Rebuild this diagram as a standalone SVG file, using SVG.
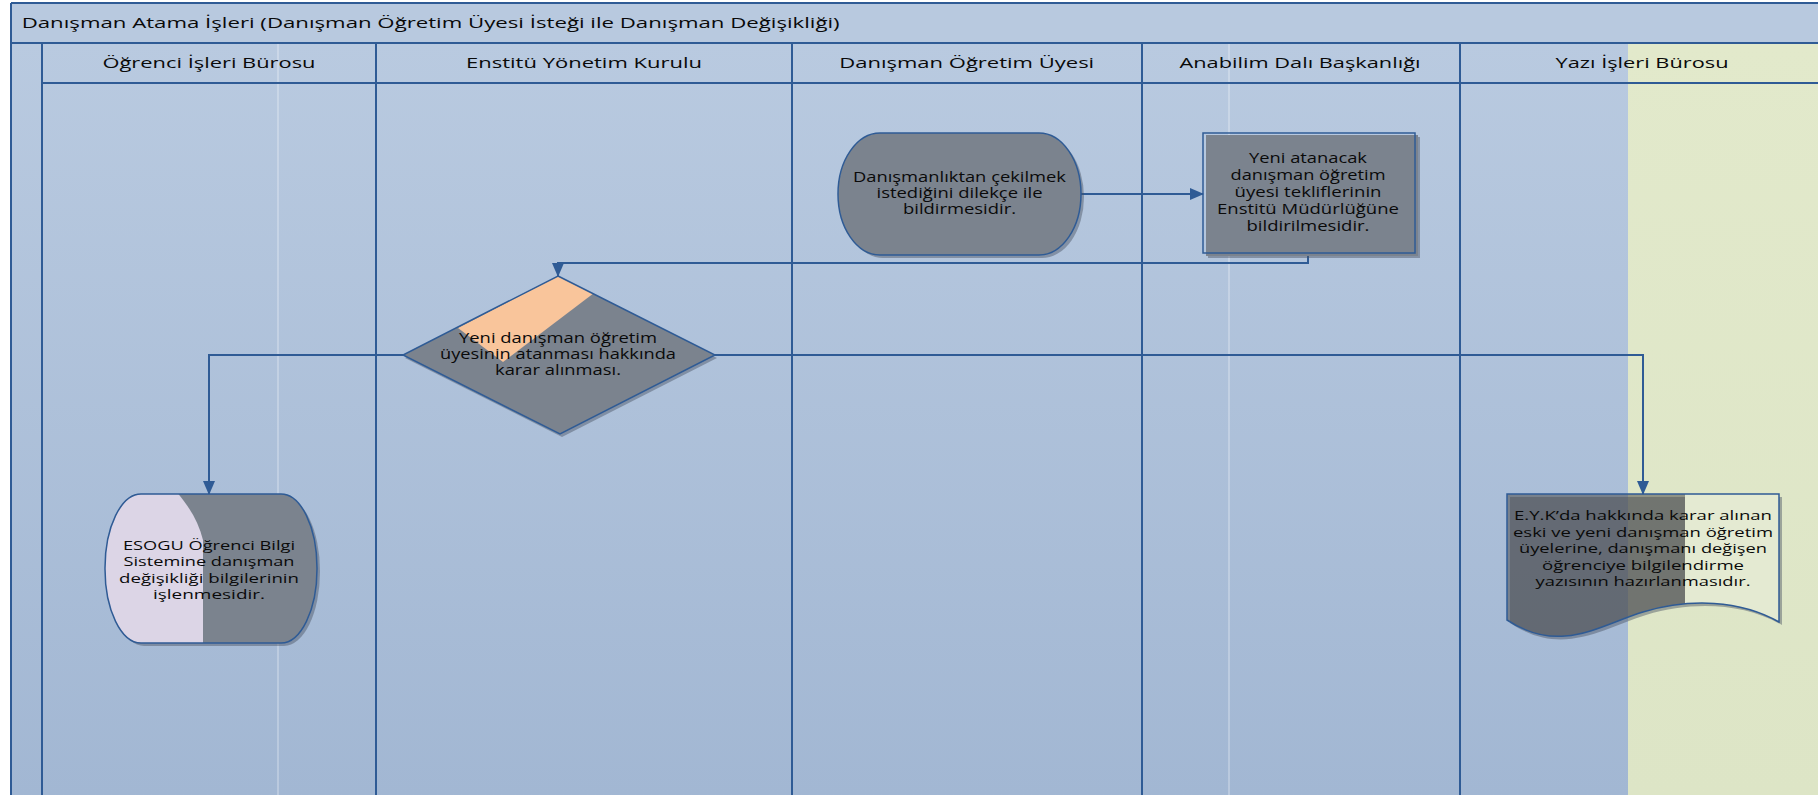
<svg xmlns="http://www.w3.org/2000/svg" width="1818" height="795" viewBox="0 0 1818 795">
<style>
.ln{stroke:#2f5b95;stroke-width:2;fill:none}
.fl{stroke:#ffffff;stroke-opacity:0.35;stroke-width:1.5}
.node{fill:#7b838e}
.out{fill:none;stroke:#2f5b95;stroke-width:1.5}
.sh{fill:#4a5361;opacity:0.45}
.t{font-family:"Open Sans","Liberation Sans",sans-serif;font-size:14px;font-weight:500;fill:#0a0a0a;text-anchor:middle}
.ts{font-size:13.5px}
.h{font-family:"Open Sans","Liberation Sans",sans-serif;font-size:15px;font-weight:500;fill:#0a0a0a;text-anchor:middle}
.ttl{font-family:"Open Sans","Liberation Sans",sans-serif;font-size:15px;font-weight:500;fill:#0a0a0a}
.con{stroke:#2f5b95;stroke-width:2;fill:none;marker-end:url(#arr)}
</style>
<defs>
<linearGradient id="bg" x1="0" y1="43" x2="0" y2="795" gradientUnits="userSpaceOnUse">
<stop offset="0" stop-color="#b9cae0"/>
<stop offset="1" stop-color="#a2b7d3"/>
</linearGradient>
<linearGradient id="gr" x1="0" y1="43" x2="0" y2="795" gradientUnits="userSpaceOnUse">
<stop offset="0" stop-color="#e2e9cb"/>
<stop offset="1" stop-color="#dde5c6"/>
</linearGradient>
<marker id="arr" markerUnits="userSpaceOnUse" markerWidth="14" markerHeight="12" refX="13" refY="6" orient="auto">
<path d="M0,0 L14,6 L0,12 z" fill="#2f5b95"/>
</marker>
<clipPath id="cpT2"><rect x="105" y="494" width="212" height="149" rx="36" ry="74"/></clipPath>
<clipPath id="cpD1"><polygon points="558,276 715,355 560,434 403,355"/></clipPath>
<clipPath id="cpDoc"><path d="M1507,494 H1779 V622 C1740,600 1690,598 1643,612 C1600,625 1560,655 1507,620 Z"/></clipPath>
</defs>

<g id="background">
<rect x="11" y="3" width="1830" height="800" fill="url(#bg)"/>
<rect x="11" y="3" width="1830" height="40" fill="#b8c9df"/>
<rect x="1628" y="43" width="200" height="760" fill="url(#gr)"/>
<line class="fl" x1="278" y1="43" x2="278" y2="795"/>
<line class="fl" x1="1229" y1="43" x2="1229" y2="795"/>
</g>

<g id="pool">
<line class="ln" x1="11" y1="3" x2="1818" y2="3"/>
<line class="ln" x1="11" y1="3" x2="11" y2="795"/>
<line class="ln" x1="11" y1="43" x2="1818" y2="43"/>
<line class="ln" x1="42" y1="83" x2="1818" y2="83"/>
<line class="ln" x1="42" y1="43" x2="42" y2="795"/>
<line class="ln" x1="376" y1="43" x2="376" y2="795"/>
<line class="ln" x1="792" y1="43" x2="792" y2="795"/>
<line class="ln" x1="1142" y1="43" x2="1142" y2="795"/>
<line class="ln" x1="1460" y1="43" x2="1460" y2="795"/>
<text class="ttl" x="21.7" y="28.3" textLength="818" lengthAdjust="spacingAndGlyphs">Danışman Atama İşleri (Danışman Öğretim Üyesi İsteği ile Danışman Değişikliği)</text>
</g>

<g id="lane-headers">
<text class="h" x="209" y="68.3" textLength="213" lengthAdjust="spacingAndGlyphs">Öğrenci İşleri Bürosu</text>
<text class="h" x="584" y="68.3" textLength="236" lengthAdjust="spacingAndGlyphs">Enstitü Yönetim Kurulu</text>
<text class="h" x="966.7" y="68.3" textLength="255" lengthAdjust="spacingAndGlyphs">Danışman Öğretim Üyesi</text>
<text class="h" x="1300" y="68.3" textLength="241" lengthAdjust="spacingAndGlyphs">Anabilim Dalı Başkanlığı</text>
<text class="h" x="1642" y="68.3" textLength="173" lengthAdjust="spacingAndGlyphs">Yazı İşleri Bürosu</text>
</g>

<g id="connectors">
<path class="con" d="M1081,194 H1203"/>
<path class="con" d="M1308,256 V263 H558 V276"/>
<path class="con" d="M403,355 H209 V494"/>
<path class="con" d="M715,355 H1643 V494"/>
</g>

<g id="n1-dilekce">
<rect class="sh" x="841" y="136" width="243" height="122" rx="42" ry="61"/>
<rect class="node" x="838" y="133" width="243" height="122" rx="42" ry="61"/>
<rect class="out" x="838" y="133" width="243" height="122" rx="42" ry="61"/>
<text class="t" x="959.5" y="181.7" textLength="213" lengthAdjust="spacingAndGlyphs">Danışmanlıktan çekilmek</text>
<text class="t" x="959.5" y="197.5" textLength="166" lengthAdjust="spacingAndGlyphs">istediğini dilekçe ile</text>
<text class="t" x="959.5" y="213.5" textLength="113" lengthAdjust="spacingAndGlyphs">bildirmesidir.</text>
</g>

<g id="n2-teklif">
<rect class="sh" x="1208" y="137" width="212" height="121"/>
<rect class="node" x="1206" y="135" width="212" height="121"/>
<rect class="out" x="1203" y="133" width="212" height="120"/>
<text class="t" x="1308" y="163.3" textLength="118" lengthAdjust="spacingAndGlyphs">Yeni atanacak</text>
<text class="t" x="1308" y="180" textLength="155" lengthAdjust="spacingAndGlyphs">danışman öğretim</text>
<text class="t" x="1308" y="196.7" textLength="147" lengthAdjust="spacingAndGlyphs">üyesi tekliflerinin</text>
<text class="t" x="1308" y="214" textLength="182" lengthAdjust="spacingAndGlyphs">Enstitü Müdürlüğüne</text>
<text class="t" x="1308" y="230.7" textLength="123" lengthAdjust="spacingAndGlyphs">bildirilmesidir.</text>
</g>

<g id="n3-karar">
<polygon class="sh" points="560,279 717,358 562,437 405,358"/>
<polygon class="node" points="558,276 715,355 560,434 403,355"/>
<polygon points="558,276 594,293 503,362 458,328" fill="#f9c59b" clip-path="url(#cpD1)"/>
<polygon class="out" points="558,276 715,355 560,434 403,355"/>
<text class="t" x="558" y="343" textLength="198" lengthAdjust="spacingAndGlyphs">Yeni danışman öğretim</text>
<text class="t" x="558" y="359" textLength="236" lengthAdjust="spacingAndGlyphs">üyesinin atanması hakkında</text>
<text class="t" x="558" y="375" textLength="126" lengthAdjust="spacingAndGlyphs">karar alınması.</text>
</g>

<g id="n4-esogu">
<rect class="sh" x="108" y="497" width="212" height="149" rx="36" ry="74"/>
<rect class="node" x="105" y="494" width="212" height="149" rx="36" ry="74"/>
<path d="M100,490 H175 C188,505 198,520 203,540 V650 H100 Z" fill="#dcd5e6" clip-path="url(#cpT2)"/>
<rect class="out" x="105" y="494" width="212" height="149" rx="36" ry="74"/>
<text class="t ts" x="209" y="550" textLength="172" lengthAdjust="spacingAndGlyphs">ESOGU Öğrenci Bilgi</text>
<text class="t ts" x="209" y="566" textLength="171" lengthAdjust="spacingAndGlyphs">Sistemine danışman</text>
<text class="t ts" x="209" y="582.5" textLength="180" lengthAdjust="spacingAndGlyphs">değişikliği bilgilerinin</text>
<text class="t ts" x="209" y="599" textLength="112" lengthAdjust="spacingAndGlyphs">işlenmesidir.</text>
</g>

<g id="n5-yazi">
<path class="sh" d="M1510,497 H1782 V625 C1743,603 1693,601 1646,615 C1603,628 1563,658 1510,623 Z"/>
<g clip-path="url(#cpDoc)">
<rect x="1500" y="490" width="185" height="170" fill="#4e4f4f" fill-opacity="0.55"/>
<rect x="1685" y="490" width="100" height="170" fill="#e4ead2"/>
</g>
<path class="out" d="M1507,494 H1779 V622 C1740,600 1690,598 1643,612 C1600,625 1560,655 1507,620 Z"/>
<text class="t ts" x="1643" y="520" textLength="258" lengthAdjust="spacingAndGlyphs">E.Y.K’da hakkında karar alınan</text>
<text class="t ts" x="1643" y="536.5" textLength="260" lengthAdjust="spacingAndGlyphs">eski ve yeni danışman öğretim</text>
<text class="t ts" x="1643" y="553" textLength="248" lengthAdjust="spacingAndGlyphs">üyelerine, danışmanı değişen</text>
<text class="t ts" x="1643" y="569.5" textLength="202" lengthAdjust="spacingAndGlyphs">öğrenciye bilgilendirme</text>
<text class="t ts" x="1643" y="586" textLength="215" lengthAdjust="spacingAndGlyphs">yazısının hazırlanmasıdır.</text>
</g>
</svg>
